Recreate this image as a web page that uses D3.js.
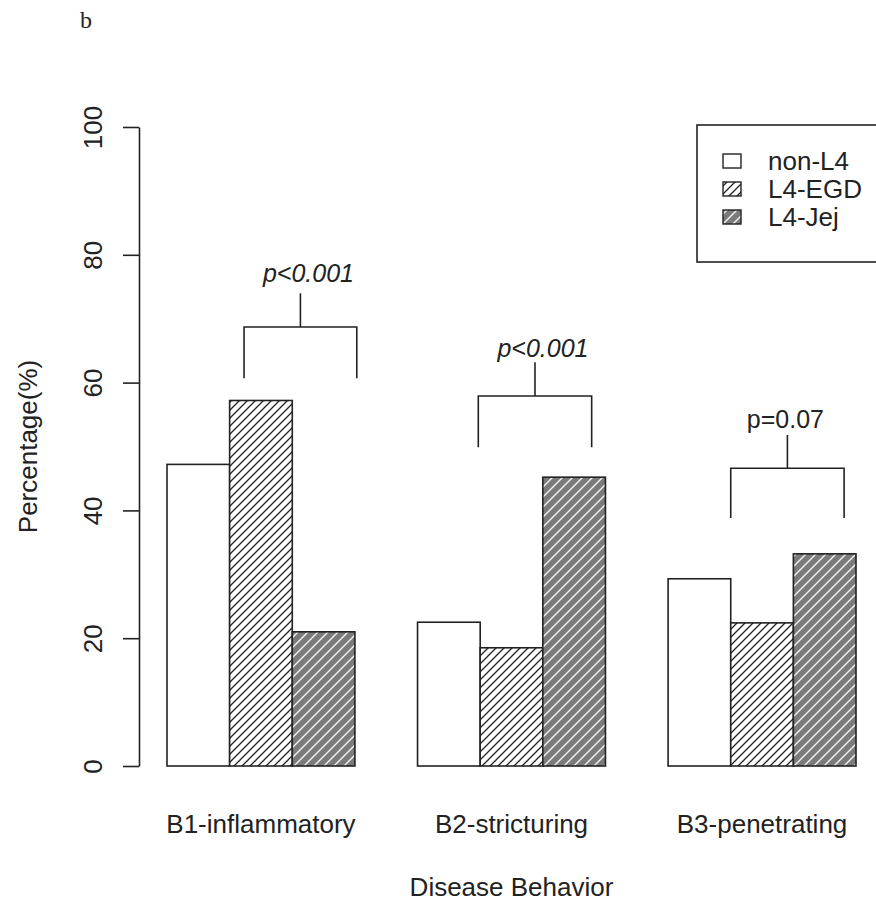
<!DOCTYPE html>
<html>
<head>
<meta charset="utf-8">
<script src="https://cdn.jsdelivr.net/npm/d3@7"></script>
<style>
  body { margin: 0; background: #fff; }
  svg text { font-family: "Liberation Sans", Arial, sans-serif; fill: #222; }
</style>
</head>
<body>
<div id="chart"></div>
<script>
const categories = ["B1-inflammatory", "B2-stricturing", "B3-penetrating"];
const series = ["non-L4", "L4-EGD", "L4-Jej"];
const nonL4 = [47.2, 22.5, 29.3];
const l4EGD = [57.2, 18.5, 22.4];
const l4Jej = [21.0, 45.2, 33.2];
const yTicks = [0, 20, 40, 60, 80, 100];

// p-value annotations, one per category
const pLabels = ["p<0.001", "p<0.001", "p=0.07"];
const pItalic = [true, true, false];
const legBottom = [60.7, 49.9, 38.8];
const bracketTop = [68.7, 57.9, 46.6];
const stemTop = [74.0, 63.2, 51.8];
const labelAt = [75.7, 64.0, 52.9];
// bracket ends, in bar widths from the start of each group
const bracketFrom = [1.23, 0.97, 1.0];
const bracketTo = [3.03, 2.78, 2.81];

const width = 876, height = 906;
const values = [nonL4, l4EGD, l4Jej];

const svg = d3.select("#chart").append("svg")
    .attr("width", width)
    .attr("height", height);

const defs = svg.append("defs");

// hatch for L4-EGD: black "/" lines on white
const p1 = defs.append("pattern")
    .attr("id", "hatchEGD")
    .attr("patternUnits", "userSpaceOnUse")
    .attr("width", 8).attr("height", 8);
p1.append("rect").attr("width", 8).attr("height", 8).attr("fill", "#fff");
p1.append("path")
    .attr("d", "M0,8 L8,0 M-2,2 L2,-2 M6,10 L10,6")
    .attr("stroke", "#222").attr("stroke-width", 1.3);

// hatch for L4-Jej: white "/" lines on dark grey
const p2 = defs.append("pattern")
    .attr("id", "hatchJej")
    .attr("patternUnits", "userSpaceOnUse")
    .attr("width", 10).attr("height", 10);
p2.append("rect").attr("width", 10).attr("height", 10).attr("fill", "#7b7b7b");
p2.append("path")
    .attr("d", "M0,10 L10,0 M-2,2 L2,-2 M8,12 L12,8")
    .attr("stroke", "#f4f4f4").attr("stroke-width", 1.4);

const fills = ["#fff", "url(#hatchEGD)", "url(#hatchJej)"];

const x = d3.scaleBand()
    .domain(categories)
    .range([167, 856])
    .paddingInner(0.25)
    .paddingOuter(0);

const xSub = d3.scaleBand()
    .domain(series)
    .range([0, x.bandwidth()]);

const xUnit = d3.scaleLinear()
    .domain([0, series.length])
    .range([0, x.bandwidth()]);

const y = d3.scaleLinear()
    .domain([0, 100])
    .range([766, 127]);

// bars
const data = categories.flatMap((c, i) =>
    series.map((s, j) => ({ cat: c, s, j, value: values[j][i] })));

svg.append("g").selectAll("rect")
    .data(data)
    .join("rect")
    .attr("x", d => x(d.cat) + xSub(d.s))
    .attr("y", d => y(d.value))
    .attr("width", xSub.bandwidth())
    .attr("height", d => y(0) - y(d.value))
    .attr("fill", d => fills[d.j])
    .attr("stroke", "#222")
    .attr("stroke-width", 1.6);

// y axis
const yAxis = svg.append("g")
    .attr("transform", "translate(139,0)")
    .call(d3.axisLeft(y).tickValues(yTicks).tickSize(16).tickSizeOuter(0));
yAxis.select(".domain").attr("stroke", "#222").attr("stroke-width", 1.6);
yAxis.selectAll(".tick line").attr("stroke", "#222").attr("stroke-width", 1.6);
yAxis.selectAll(".tick text")
    .attr("x", null).attr("dy", null)
    .attr("transform", "translate(-37,0) rotate(-90)")
    .attr("text-anchor", "middle")
    .style("font-size", "26px")
    .style("font-family", "'Liberation Sans', Arial, sans-serif")
    .attr("fill", "#222");

svg.append("text")
    .attr("transform", `translate(37,${(y(0) + y(100)) / 2}) rotate(-90)`)
    .attr("text-anchor", "middle")
    .style("font-size", "26px")
    .text("Percentage(%)");

// category labels
svg.append("g").selectAll("text")
    .data(categories)
    .join("text")
    .attr("x", d => x(d) + x.bandwidth() / 2)
    .attr("y", 833)
    .attr("text-anchor", "middle")
    .style("font-size", "26px")
    .text(d => d);

svg.append("text")
    .attr("x", (x.range()[0] + x.range()[1]) / 2 - 0)
    .attr("y", 896)
    .attr("text-anchor", "middle")
    .style("font-size", "26px")
    .text("Disease Behavior");

// p-value brackets
const br = svg.append("g");
categories.forEach((c, i) => {
    const x0 = x(c) + xUnit(bracketFrom[i]);
    const x1 = x(c) + xUnit(bracketTo[i]);
    const xm = (x0 + x1) / 2;
    br.append("path")
        .attr("d", `M${x0},${y(legBottom[i])} V${y(bracketTop[i])} H${x1} V${y(legBottom[i])}` +
            ` M${xm},${y(bracketTop[i])} V${y(stemTop[i])}`)
        .attr("fill", "none")
        .attr("stroke", "#222")
        .attr("stroke-width", 1.6);
    br.append("text")
        .attr("x", xm + (pItalic[i] ? 8 : -2))
        .attr("y", y(labelAt[i]))
        .attr("text-anchor", "middle")
        .style("font-size", "25px")
        .style("font-style", pItalic[i] ? "italic" : "normal")
        .text(pLabels[i]);
});

// legend
const legend = svg.append("g");
legend.append("rect")
    .attr("x", 697).attr("y", 125)
    .attr("width", 190).attr("height", 137)
    .attr("fill", "none")
    .attr("stroke", "#222")
    .attr("stroke-width", 1.6);

const rowY = d3.scalePoint().domain(series).range([161, 217]);
const items = legend.selectAll("g.item")
    .data(series)
    .join("g")
    .attr("class", "item")
    .attr("transform", d => `translate(0,${rowY(d)})`);
items.append("rect")
    .attr("x", 723).attr("y", -7)
    .attr("width", 18).attr("height", 14)
    .attr("fill", (d, i) => fills[i])
    .attr("stroke", "#222")
    .attr("stroke-width", 1.4);
items.append("text")
    .attr("x", 768).attr("y", 9)
    .style("font-size", "26px")
    .text(d => d);

// panel letter
svg.append("text")
    .attr("x", 80).attr("y", 28)
    .style("font-family", "'Liberation Serif', 'Times New Roman', serif")
    .style("font-size", "24px")
    .text("b");
</script>
</body>
</html>
